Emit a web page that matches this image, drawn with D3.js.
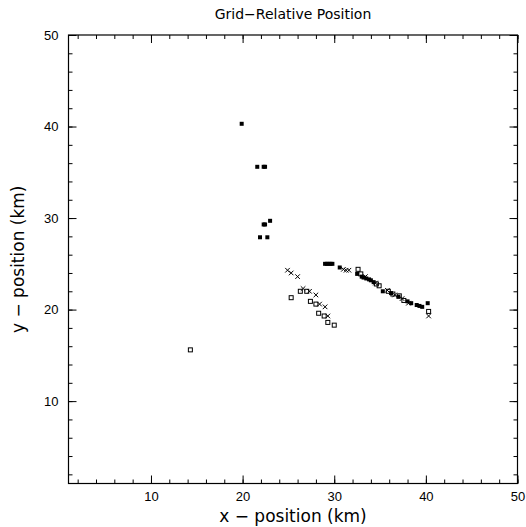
<!DOCTYPE html>
<html>
<head>
<meta charset="utf-8">
<script src="https://cdn.jsdelivr.net/npm/d3@7"></script>
<style>
  body { margin: 0; background: #fff; }
  svg { display: block; }
  .axis text { font-family: "Liberation Sans", Arial, sans-serif; font-size: 13px; fill: #000; }
  .axis line { stroke: #000; }
  .lbl { font-family: "DejaVu Sans", sans-serif; fill: #000; }
</style>
</head>
<body>
<svg id="chart" width="526" height="527"></svg>
<script>
// filled squares
var filledPts = [
    [19.9, 40.3], [21.6, 35.6], [22.3, 35.6], [22.45, 35.6],
    [23.0, 29.7], [22.3, 29.3], [22.45, 29.3], [21.9, 27.9], [22.7, 27.9],
    [29.0, 25.0], [29.2, 25.0], [29.4, 25.0], [29.6, 25.0], [29.8, 25.0],
    [30.6, 24.6], [32.5, 23.9], [33.0, 23.6], [33.2, 23.5], [33.5, 23.4],
    [33.8, 23.3], [34.0, 23.2], [34.3, 23.0], [35.3, 22.0], [36.2, 21.8],
    [37.0, 21.4], [38.0, 20.9], [38.4, 20.7], [39.0, 20.5], [39.3, 20.4],
    [39.6, 20.3], [40.2, 20.7]
]
// open squares
var openPts = [
    [14.3, 15.6], [25.3, 21.3], [26.3, 22.0], [27.0, 22.0], [27.4, 20.9],
    [28.0, 20.6], [28.3, 19.6], [28.9, 19.3], [29.3, 18.6], [30.0, 18.3],
    [32.6, 24.4], [32.9, 23.9], [34.6, 22.8], [34.9, 22.6], [35.9, 22.0],
    [36.4, 21.7], [37.1, 21.5], [37.6, 21.0], [40.3, 19.8]
]
// crosses
var crossPts = [
    [24.9, 24.3], [25.3, 24.0], [26.0, 23.6], [26.6, 22.3], [27.3, 22.0],
    [28.0, 21.6], [28.4, 20.6], [29.0, 20.3], [29.3, 19.3],
    [31.0, 24.4], [31.3, 24.3], [31.6, 24.3], [33.4, 23.6], [34.5, 22.9],
    [35.8, 22.1], [36.6, 21.6], [37.4, 21.2], [38.1, 20.7], [40.3, 19.3]
]
var majorTicks = [10, 20, 30, 40, 50]
var minorTicks = d3.range(2, 51, 2)

var margin = { top: 35, right: 8.5, bottom: 43.5, left: 68.5 }
var width = 526 - margin.left - margin.right
var height = 527 - margin.top - margin.bottom

var svg = d3.select('#chart')
var g = svg.append('g')
    .attr('transform', 'translate(' + margin.left + ',' + margin.top + ')')

var xScale = d3.scaleLinear().domain([1, 50]).range([0, width])
var yScale = d3.scaleLinear().domain([1, 50]).range([height, 0])

function addAxis(axis, tx, ty) {
    var a = g.append('g')
        .attr('class', 'axis')
        .attr('transform', 'translate(' + tx + ',' + ty + ')')
        .call(axis)
    a.select('.domain').remove()
    return a
}

// minor ticks, all four sides
addAxis(d3.axisBottom(xScale).tickValues(minorTicks).tickSize(-4).tickFormat(''), 0, height)
addAxis(d3.axisTop(xScale).tickValues(minorTicks).tickSize(-4).tickFormat(''), 0, 0)
addAxis(d3.axisLeft(yScale).tickValues(minorTicks).tickSize(-4).tickFormat(''), 0, 0)
addAxis(d3.axisRight(yScale).tickValues(minorTicks).tickSize(-4).tickFormat(''), width, 0)

// major ticks
addAxis(d3.axisBottom(xScale).tickValues(majorTicks).tickSize(-8).tickPadding(8), 0, height)
addAxis(d3.axisTop(xScale).tickValues(majorTicks).tickSize(-8).tickFormat(''), 0, 0)
addAxis(d3.axisLeft(yScale).tickValues(majorTicks).tickSize(-8).tickPadding(10), 0, 0)
addAxis(d3.axisRight(yScale).tickValues(majorTicks).tickSize(-8).tickFormat(''), width, 0)

g.append('rect')
    .attr('width', width)
    .attr('height', height)
    .attr('fill', 'none')
    .attr('stroke', '#000')
    .attr('stroke-width', 1.2)

// points
g.selectAll('.filled')
    .data(filledPts)
    .enter().append('rect')
    .attr('class', 'filled')
    .attr('x', function (d) { return xScale(d[0]) - 2 })
    .attr('y', function (d) { return yScale(d[1]) - 2 })
    .attr('width', 4)
    .attr('height', 4)
    .attr('fill', '#000')

g.selectAll('.open')
    .data(openPts)
    .enter().append('rect')
    .attr('class', 'open')
    .attr('x', function (d) { return xScale(d[0]) - 2 })
    .attr('y', function (d) { return yScale(d[1]) - 2 })
    .attr('width', 4)
    .attr('height', 4)
    .attr('fill', 'none')
    .attr('stroke', '#000')
    .attr('stroke-width', 1)

g.selectAll('.cross')
    .data(crossPts)
    .enter().append('path')
    .attr('class', 'cross')
    .attr('d', function (d) {
        var x = xScale(d[0]), y = yScale(d[1]), s = 2.3
        return 'M' + (x - s) + ',' + (y - s) + 'L' + (x + s) + ',' + (y + s) +
            'M' + (x - s) + ',' + (y + s) + 'L' + (x + s) + ',' + (y - s)
    })
    .attr('stroke', '#000')
    .attr('stroke-width', 1)

// labels
svg.append('text')
    .attr('class', 'lbl')
    .attr('x', margin.left + width / 2)
    .attr('y', 19)
    .attr('text-anchor', 'middle')
    .style('font-size', '14px')
    .text('Grid\u2212Relative Position')

svg.append('text')
    .attr('class', 'lbl')
    .attr('x', margin.left + width / 2)
    .attr('y', 522)
    .attr('text-anchor', 'middle')
    .style('font-size', '17px')
    .text('x \u2212 position (km)')

svg.append('text')
    .attr('class', 'lbl')
    .attr('transform', 'rotate(-90)')
    .attr('x', -(margin.top + height / 2))
    .attr('y', 24)
    .attr('text-anchor', 'middle')
    .style('font-size', '17px')
    .text('y \u2212 position (km)')
</script>
</body>
</html>
